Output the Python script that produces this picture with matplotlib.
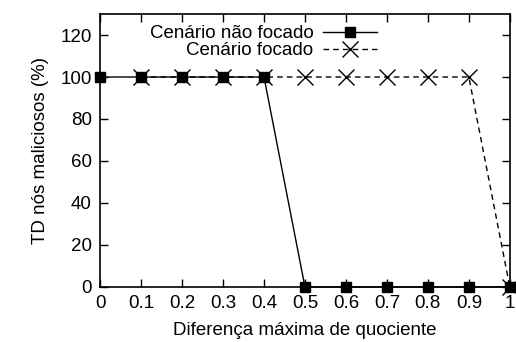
import matplotlib
matplotlib.use("Agg")
import matplotlib.pyplot as plt

# dados
x_nao_focado = [0.0, 0.1, 0.2, 0.3, 0.4, 0.5, 0.6, 0.7, 0.8, 0.9, 1.0]
td_nao_focado = [100, 100, 100, 100, 100, 0, 0, 0, 0, 0, 0]
x_focado = [0.1, 0.2, 0.3, 0.4, 0.5, 0.6, 0.7, 0.8, 0.9, 1.0]
td_focado = [100, 100, 100, 100, 100, 100, 100, 100, 100, 0]

xticks = [0, 0.1, 0.2, 0.3, 0.4, 0.5, 0.6, 0.7, 0.8, 0.9, 1]
xtick_labels = ["0", "0.1", "0.2", "0.3", "0.4", "0.5", "0.6", "0.7", "0.8", "0.9", "1"]
yticks = [0, 20, 40, 60, 80, 100, 120]

plt.rcParams['font.family'] = ['Liberation Sans', 'DejaVu Sans']
plt.rcParams['font.size'] = 13.5

fig = plt.figure(figsize=(5.16, 3.42), dpi=100)
ax = fig.add_axes([0.194, 0.161, 0.794, 0.798])

ax.plot(x_nao_focado, td_nao_focado, color='black', linewidth=1.0,
        marker='s', markersize=6.5, label='Cenário não focado', clip_on=False, zorder=3)
ax.plot(x_focado, td_focado, color='black', linewidth=1.0, linestyle=(0, (4, 3)),
        marker='x', markersize=11, markeredgewidth=1.0, label='Cenário focado',
        clip_on=False, zorder=4)

ax.set_xlim(0, 1)
ax.set_ylim(0, 130)
ax.set_xticks(xticks)
ax.set_xticklabels(xtick_labels)
ax.set_yticks(yticks)
ax.tick_params(direction='in', length=6, width=1, top=True, right=True, pad=6)
for s in ax.spines.values():
    s.set_linewidth(1.2)

ax.set_xlabel('Diferença máxima de quociente', labelpad=7)
ax.set_ylabel('TD nós maliciosos (%)', labelpad=8)

ax.legend(loc='upper right', bbox_to_anchor=(0.676, 0.96), frameon=False,
          markerfirst=False, handlelength=2.9, handletextpad=0.5,
          labelspacing=0.0, borderpad=0, borderaxespad=0)

fig.savefig('out.png', dpi=100)
